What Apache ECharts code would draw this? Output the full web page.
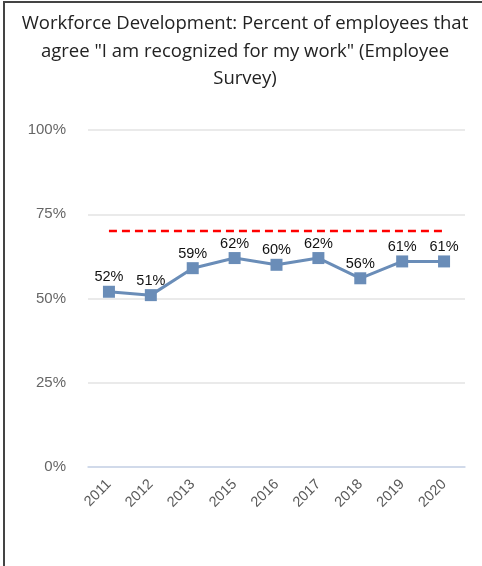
<!DOCTYPE html>
<html><head><meta charset="utf-8">
<script src="https://cdn.jsdelivr.net/npm/echarts@6/dist/echarts.min.js"></script>
<style>
html,body{margin:0;padding:0;background:#fff;}
#frame{position:absolute;left:3px;top:1px;width:490px;height:580px;border-left:2px solid #444;border-top:2px solid #444;box-sizing:border-box;}
#c{position:absolute;left:0;top:0;width:482px;height:566px;}
</style></head>
<body>
<div id="frame"></div>
<div id="c"></div>
<script>
const categories = ['2011','2012','2013','2015','2016','2017','2018','2019','2020'];
const values = [52,51,59,62,60,62,56,61,61];
const targetValues = [70,70,70,70,70,70,70,70,70];
const titleLines = ['Workforce Development: Percent of employees that','agree "I am recognized for my work" (Employee','Survey)'];

const chart = echarts.init(document.getElementById('c'));
chart.setOption({
  animation:false,
  graphic:[{
    type:'text', x:245, y:10,
    style:{text:titleLines.join('\n'),align:'center',verticalAlign:'top',fontFamily:'Open Sans',fontSize:18.5,fill:'#222',lineHeight:27.5}
  }],
  grid:{left:88,right:17,top:130,bottom:99,containLabel:false},
  xAxis:{
    type:'category', data:categories, boundaryGap:true,
    axisLine:{show:true,lineStyle:{color:'#c9d5ea',width:1.5}},
    axisTick:{show:false},
    axisLabel:{rotate:45,color:'#5a5a5a',fontFamily:'Liberation Sans',fontSize:14.5,margin:15}
  },
  yAxis:{
    type:'value', min:0, max:100, interval:25,
    axisLine:{show:false}, axisTick:{show:false},
    axisLabel:{color:'#666',fontFamily:'Liberation Sans',fontSize:15,margin:22,formatter:v=>v+'%'},
    splitLine:{lineStyle:{color:'#e3e3e3',width:1.5}}
  },
  series:[
    {
      type:'line', data:targetValues, symbol:'none', silent:true,
      lineStyle:{color:'#ff0000',width:2.5,type:[8,5]},
      z:1
    },
    {
      type:'line', data:values, symbol:'rect', symbolSize:12,
      lineStyle:{color:'#6a8db8',width:3},
      itemStyle:{color:'#6a8db8'},
      label:{show:true,position:'top',distance:1,color:'#111',fontFamily:'Liberation Sans',fontSize:14.5,formatter:p=>p.value+'%'},
      z:3
    }
  ]
});
</script>
</body></html>
